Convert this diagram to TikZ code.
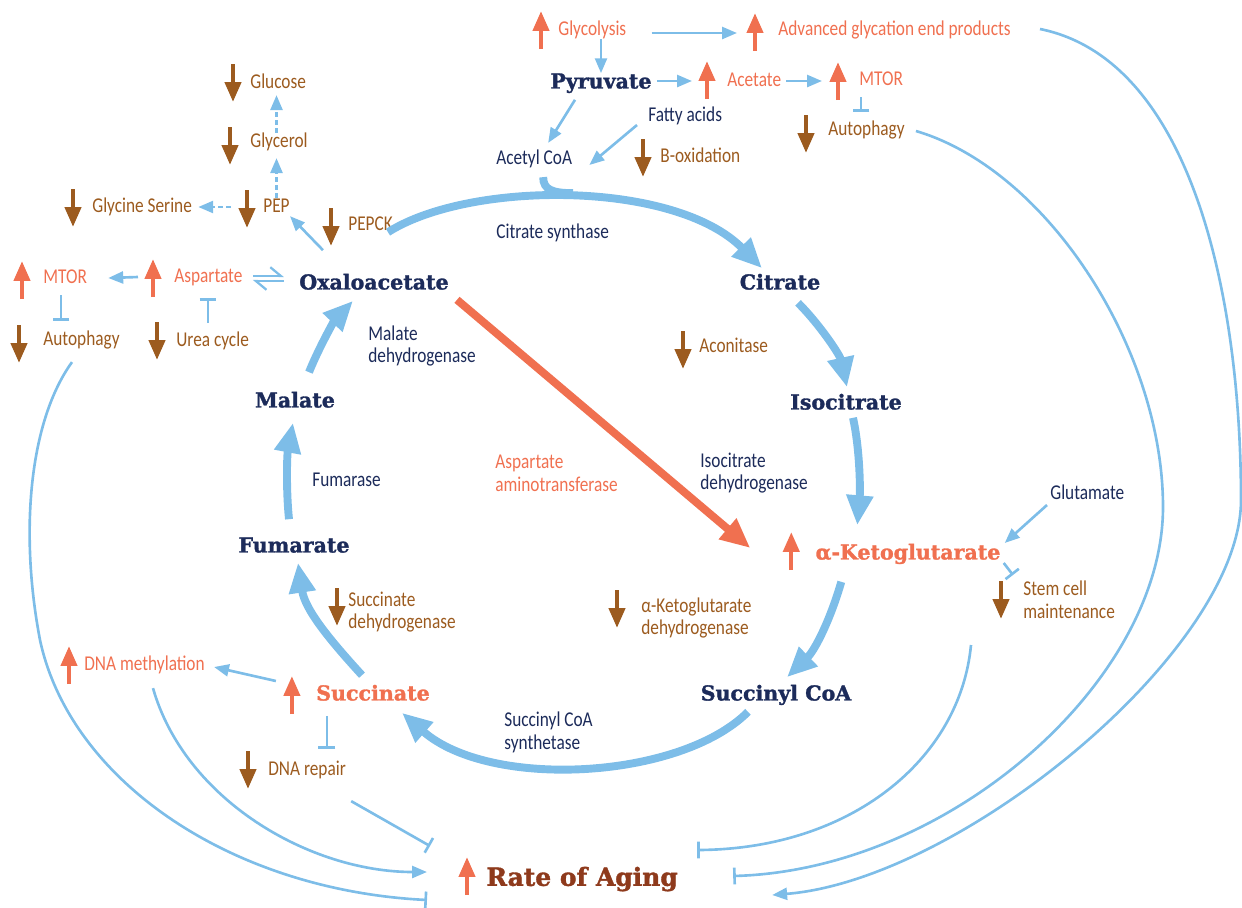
\documentclass[tikz,border=0pt]{standalone}
\usepackage{fontspec}
\setmainfont{Carlito}[FakeStretch=0.82]
\newfontfamily\slab{DejaVu Serif}[BoldFeatures={FakeBold=1.5}]
\usetikzlibrary{arrows.meta, positioning, calc}

\definecolor{navy}{HTML}{1C2B5A}
\definecolor{coral}{HTML}{F07050}
\definecolor{umber}{HTML}{9C5B1F}
\definecolor{sky}{HTML}{7DBDE8}
\definecolor{rust}{HTML}{8E3A1C}

\begin{document}
\begin{tikzpicture}[
        x=0.02cm, y=-0.02cm,
        metab/.style={font=\slab\bfseries\fontsize{11.7}{14}\selectfont, text=navy, inner sep=0pt, text height=8.5pt, text depth=0pt},
        txt/.style={font=\fontsize{12}{13}\selectfont, anchor=west, inner sep=0pt, text height=8pt, text depth=2pt},
        txtii/.style={font=\fontsize{12}{13}\selectfont, anchor=west, inner sep=0pt, align=left},
        link/.style={color=sky, line width=1.5pt, -{Triangle[length=8.5pt, width=6.8pt]}},
        dashlink/.style={link, dash pattern=on 2.8pt off 1.8pt},
        block/.style={color=sky, line width=1.5pt, -{Bar[width=9.6pt]}},
        harp/.style={color=sky, line width=1.3pt, -{Straight Barb[left, length=6pt, width=10pt]}},
        tca/.style={color=sky, line width=4.5pt, -{Triangle[length=17pt, width=14.5pt]}},
        shunt/.style={color=coral, line width=4.5pt, -{Triangle[length=17pt, width=14.5pt]}},
        incr/.style={color=coral, line width=2.5pt, -{Triangle[length=11.3pt, width=9pt]}},
        decr/.style={color=umber, line width=2.5pt, -{Triangle[length=11.3pt, width=9pt]}}
    ]
    \useasboundingbox (0,0) rectangle (1242,907);

    % Top row
    \node[txt, text=coral] (glyc) at (558,30) {Glycolysis};
    \node[txt, text=coral] (age) at (778,30) {Advanced glycation end products};
    \node[metab] (pyr) at (601,81) {Pyruvate};
    \node[txt, text=coral] (acet) at (727,81) {Acetate};
    \node[txt, text=coral] (mtorr) at (859,80) {MTOR};
    \node[txt, text=umber] (autor) at (828,130) {Autophagy};
    \node[txt, text=navy] (fatty) at (648,116) {Fatty acids};
    \node[txt, text=navy] (acetyl) at (496,159) {Acetyl CoA};
    \node[txt, text=umber] (boxid) at (660,157) {B-oxidation};

    % Left side
    \node[txt, text=umber] (glucose) at (250,83) {Glucose};
    \node[txt, text=umber] (glycerol) at (250,142) {Glycerol};
    \node[txt, text=umber] (pep) at (263,207) {PEP};
    \node[txt, text=umber] (glyser) at (92,207) {Glycine Serine};
    \node[txt, text=umber] (pepck) at (348,225) {PEPCK};
    \node[txt, text=coral] (asp) at (174,277) {Aspartate};
    \node[txt, text=coral] (mtorl) at (43,278) {MTOR};
    \node[txt, text=umber] (autol) at (43,340) {Autophagy};
    \node[txt, text=umber] (urea) at (176,341) {Urea cycle};

    % Cycle
    \node[metab] (oxa) at (374,282) {Oxaloacetate};
    \node[metab] (cit) at (780,282) {Citrate};
    \node[metab] (iso) at (846,402) {Isocitrate};
    \node[metab, text=coral] (akg) at (908,552) {α-Ketoglutarate};
    \node[metab] (succoa) at (776,693) {Succinyl CoA};
    \node[metab, text=coral] (succ) at (373,693) {Succinate};
    \node[metab] (fum) at (294,545) {Fumarate};
    \node[metab] (mal) at (295,400) {Malate};

    % Enzymes
    \node[txt, text=navy] (cs) at (496,233) {Citrate synthase};
    \node[txt, text=umber] (acon) at (699,347) {Aconitase};
    \node[txtii, text=navy] (idh) at (700,473) {Isocitrate\\dehydrogenase};
    \node[txtii, text=umber] (akgdh) at (641,618) {α-Ketoglutarate\\dehydrogenase};
    \node[txtii, text=navy] (scs) at (504,732) {Succinyl CoA\\synthetase};
    \node[txtii, text=umber] (sdh) at (348,612) {Succinate\\dehydrogenase};
    \node[txt, text=navy] (fumase) at (312,481) {Fumarase};
    \node[txtii, text=navy] (mdh) at (368,346) {Malate\\dehydrogenase};
    \node[txtii, text=coral] (aat) at (495,473) {Aspartate\\aminotransferase};

    % Right side
    \node[txt, text=navy] (glut) at (1050,494) {Glutamate};
    \node[txtii, text=umber] (stem) at (1023,600) {Stem cell\\maintenance};

    % Bottom
    \node[txt, text=coral] (dnameth) at (84,665) {DNA methylation};
    \node[txt, text=umber] (dnarep) at (268,770) {DNA repair};
    \node[metab, anchor=west, text=rust, text height=10pt, font=\slab\bfseries\fontsize{14.2}{16}\selectfont] (aging) at (486,877) {Rate of Aging};

    % Up and down markers
    \foreach \n/\dx/\dy in {glyc/17/0, age/23/2, acet/20/-1, mtorr/21/1, asp/21/1, mtorl/21/2, dnameth/15/0, succ/24/2, akg/24/-1, aging/19/-1}
        \draw[incr] ($(\n.west)+(-\dx,\dy+19)$) -- ++(0,-38);
    \foreach \n/\dx/\dy in {glucose/17/0, glycerol/20/4, pep/16/2, glyser/19/1, pepck/17/2, autol/24/4, urea/19/0, autor/22/4, boxid/17/1, acon/16/3, akgdh/24/-9, sdh/11/-5, stem/22/0, dnarep/20/0}
        \draw[decr] ($(\n.west)+(-\dx,\dy-19)$) -- ++(0,38);

    % Cycle arrows
    \draw[color=sky, line width=4.5pt] ($(acetyl.south)+(9,9)$) .. controls +(0,13) and +(-20,0) .. ($(acetyl.south)+(39,25)$);
    \draw[tca] ($(oxa.north)+(14,-42)$) .. controls +(82,-52) and +(-87,-88) .. ($(cit.north)+(-18,-6)$);
    \draw[tca] ($(cit.south)+(18,13)$) .. controls +(22,22) and +(-7,-32) .. ($(iso.north)+(1,-7)$);
    \draw[tca] ($(iso.south)+(7,8)$) .. controls +(7,32) and +(3,-35) .. ($(akg.north west)+(42,-19)$);
    \draw[tca] ($(akg.south west)+(26,22)$) .. controls +(-11,38) and +(28,-27) .. ($(succoa.north)+(11,-8)$);
    \draw[tca] ($(succoa.south)+(-28,11)$) .. controls +(-68,68) and +(88,77) .. ($(succ.south)+(29,12)$);
    \draw[tca] ($(succ.north)+(-11,-10)$) .. controls +(-32,-35) and +(7,47) .. ($(fum.south)+(4,10)$);
    \draw[tca] ($(fum.north)+(-5,-18)$) .. controls +(-3,-29) and +(-6,32) .. ($(mal.south)+(-2,15)$);
    \draw[tca] ($(mal.north)+(14,-20)$) .. controls +(11,-27) and +(-18,19) .. ($(oxa.south)+(-21,11)$);
    \draw[shunt] ($(oxa.south east)+(8,10)$) -- ($(akg.west)+(-65,-4)$);

    % Top links
    \draw[link] ($(glyc.east)+(25,3)$) -- ($(age.west)+(-41,3)$);
    \draw[link] (pyr.north |- glyc.south) -- (pyr.north);
    \draw[link] ($(pyr.east)+(5,0)$) -- ($(acet.west)+(-35,0)$);
    \draw[link] ($(acet.east)+(5,0)$) -- ($(mtorr.west)+(-37,1)$);
    \draw[block] ($(mtorr.west)+(2,17)$) -- ($(autor.west)+(33,-18)$);
    \draw[link] ($(pyr.south)+(-26,11)$) -- ($(acetyl.north)+(14,-7)$);
    \draw[link] ($(fatty.west)+(-11,9)$) -- ($(acetyl.east)+(17,6)$);

    % Left links
    \draw[link] ($(oxa.north west)+(24,-24)$) -- (pep.south east);
    \draw[dashlink] ($(pep.west)+(-32,0)$) -- ($(glyser.east)+(6,0)$);
    \draw[dashlink] (pep.north) -- ($(glycerol.south -| pep.north)+(0,7)$);
    \draw[dashlink] (glycerol.north -| pep.north) -- ($(glucose.south -| pep.north)+(0,3)$);
    \draw[harp] ($(asp.east)+(10,-1)$) -- ($(oxa.west)+(-15,-6)$);
    \draw[harp] ($(oxa.west)+(-15,-1)$) -- ($(asp.east)+(10,4)$);
    \draw[link] ($(asp.west)+(-36,0)$) -- ($(mtorl.east)+(21,0)$);
    \draw[block] ($(mtorl.west)+(18,17)$) -- ($(autol.west)+(18,-19)$);
    \draw[block] ($(urea.west)+(32,-18)$) -- ($(asp.west)+(34,21)$);

    % Right links
    \draw[link] ($(glut.west)+(-3,11)$) -- ($(akg.east)+(4,-9)$);
    \draw[block] ($(akg.east)+(3,11)$) -- ($(stem.west)+(-10,-25)$);

    % Succinate links
    \draw[link] ($(succ.west)+(-40,-12)$) -- ($(dnameth.east)+(9,2)$);
    \draw[block] ($(succ.south west)+(11,15)$) -- ($(succ.south west |- dnarep.north)+(11,-12)$);

    % Into rate of aging
    \draw[block] ($(dnarep.south east)+(5,22)$) -- ($(aging.west)+(-56,-31)$);
    \draw[link] ($(dnameth.south west)+(69,14)$) .. controls +(32,112) and +(-117,0) .. ($(aging.west)+(-59,-5)$);
    \draw[block] ($(autol.south west)+(29,13)$) .. controls +(-42,58) and +(-21,-110) .. (40,640)
        .. controls +(30,140) and +(-197,-10) .. ($(aging.west)+(-59,23)$);
    \draw[block] ($(stem.west)+(-52,45)$) .. controls +(-11,115) and +(153,-1) .. ($(aging.east)+(19,-27)$);
    \draw[block] ($(autor.east)+(11,1)$) .. controls +(132,39) and +(0,-157) .. (1163,507)
        .. controls +(0,173) and +(217,-6) .. ($(aging.east)+(55,-1)$);
    \draw[link] ($(age.east)+(29,-1)$) .. controls +(153,31) and +(0,-200) .. (1241,500)
        .. controls +(0,150) and +(188,-15) .. ($(aging.east)+(94,18)$);

\end{tikzpicture}
\end{document}
